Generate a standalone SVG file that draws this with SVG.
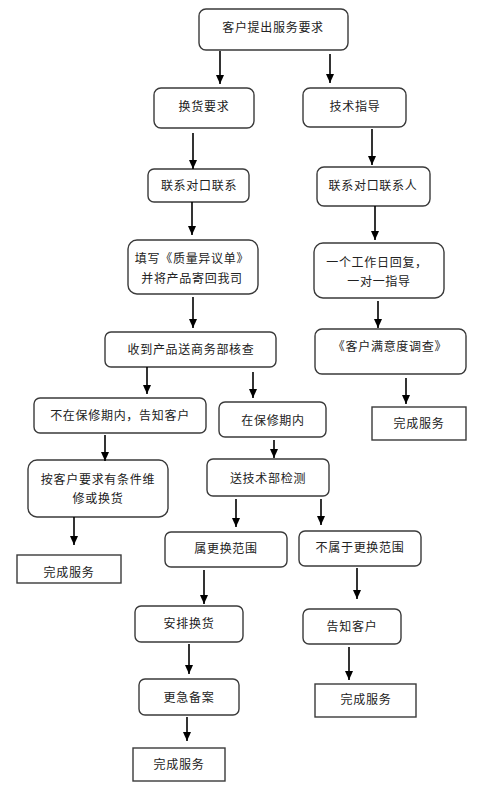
<svg xmlns="http://www.w3.org/2000/svg" width="490" height="800" viewBox="0 0 490 800">
<defs>
<style>
.n{fill:#fff;stroke:#3a3a3a;stroke-width:1.4}
.t{font-family:"Noto Sans CJK SC","Liberation Serif",sans-serif;font-size:12px;fill:#222;text-anchor:middle;dominant-baseline:central;letter-spacing:0.7px}
.c line{stroke:#000;stroke-width:1.6;marker-end:url(#ah)}
</style>
<marker id="ah" markerUnits="userSpaceOnUse" markerWidth="9" markerHeight="8" refX="9" refY="4" orient="auto"><path d="M0,0 L9,4 L0,8 Z" fill="#000"/></marker>
</defs>
<rect width="490" height="800" fill="#fff"/>
<g id="n1"><rect class="n" x="199" y="9" width="149" height="41" rx="7"/><text class="t" x="273" y="26">客户提出服务要求</text></g>
<g id="n2"><rect class="n" x="154" y="88" width="100" height="40" rx="7"/><text class="t" x="204" y="105">换货要求</text></g>
<g id="n3"><rect class="n" x="303" y="88" width="103" height="39" rx="7"/><text class="t" x="355" y="105">技术指导</text></g>
<g id="n4"><rect class="n" x="148" y="169" width="101" height="33" rx="6"/><text class="t" x="199" y="184">联系对口联系</text></g>
<g id="n5"><rect class="n" x="317" y="167" width="113" height="39" rx="7"/><text class="t" x="373" y="184">联系对口联系人</text></g>
<g id="n6"><rect class="n" x="128" y="240" width="130" height="54" rx="9"/><text class="t" x="192" y="257">填写《质量异议单》</text><text class="t" x="192" y="277">并将产品寄回我司</text></g>
<g id="n7"><rect class="n" x="314" y="243" width="130" height="55" rx="9"/><text class="t" x="377" y="261">一个工作日回复，</text><text class="t" x="379" y="280">一对一指导</text></g>
<g id="n8"><rect class="n" x="105" y="332" width="171" height="35" rx="6"/><text class="t" x="191" y="348">收到产品送商务部核查</text></g>
<g id="n9"><rect class="n" x="315" y="329" width="151" height="45" rx="7"/><text class="t" x="390" y="345">《客户满意度调查》</text></g>
<g id="n10"><rect class="n" x="34" y="398" width="172" height="35" rx="6"/><text class="t" x="120" y="414">不在保修期内，告知客户</text></g>
<g id="n11"><rect class="n" x="219" y="402" width="107" height="35" rx="6"/><text class="t" x="273" y="419">在保修期内</text></g>
<g id="n12"><rect class="n" x="372" y="407" width="94" height="33"/><text class="t" x="419" y="422">完成服务</text></g>
<g id="n13"><rect class="n" x="28" y="460" width="140" height="57" rx="9"/><text class="t" x="98" y="478">按客户要求有条件维</text><text class="t" x="98" y="497">修或换货</text></g>
<g id="n14"><rect class="n" x="207" y="459" width="122" height="37" rx="6"/><text class="t" x="268" y="477">送技术部检测</text></g>
<g id="n15"><rect class="n" x="17" y="555" width="104" height="28"/><text class="t" x="69" y="571">完成服务</text></g>
<g id="n16"><rect class="n" x="165" y="532" width="122" height="35" rx="6"/><text class="t" x="226" y="547">属更换范围</text></g>
<g id="n17"><rect class="n" x="299" y="531" width="122" height="35" rx="6"/><text class="t" x="360" y="546">不属于更换范围</text></g>
<g id="n18"><rect class="n" x="135" y="606" width="108" height="36" rx="6"/><text class="t" x="189" y="622">安排换货</text></g>
<g id="n19"><rect class="n" x="303" y="609" width="98" height="35" rx="6"/><text class="t" x="352" y="625">告知客户</text></g>
<g id="n20"><rect class="n" x="139" y="679" width="100" height="36" rx="6"/><text class="t" x="189" y="696">更急备案</text></g>
<g id="n21"><rect class="n" x="315" y="684" width="101" height="33"/><text class="t" x="366" y="698">完成服务</text></g>
<g id="n22"><rect class="n" x="133" y="748" width="92" height="33"/><text class="t" x="179" y="763">完成服务</text></g>
<g id="connectors" class="c">
<line x1="220" y1="51" x2="220" y2="84"/>
<line x1="330" y1="54" x2="330" y2="83"/>
<line x1="193" y1="133" x2="193" y2="169"/>
<line x1="372" y1="129" x2="372" y2="165"/>
<line x1="192" y1="202" x2="192" y2="235"/>
<line x1="375" y1="206" x2="375" y2="240"/>
<line x1="193" y1="297" x2="193" y2="328"/>
<line x1="378" y1="301" x2="378" y2="328"/>
<line x1="147" y1="367" x2="147" y2="394"/>
<line x1="253" y1="372" x2="253" y2="398"/>
<line x1="406" y1="378" x2="406" y2="404"/>
<line x1="105" y1="435" x2="105" y2="461"/>
<line x1="274" y1="440" x2="274" y2="458"/>
<line x1="74" y1="517" x2="74" y2="545"/>
<line x1="236" y1="499" x2="236" y2="527"/>
<line x1="321" y1="499" x2="321" y2="525"/>
<line x1="204" y1="570" x2="204" y2="604"/>
<line x1="357" y1="568" x2="357" y2="599"/>
<line x1="189" y1="644" x2="189" y2="674"/>
<line x1="349" y1="647" x2="349" y2="680"/>
<line x1="187" y1="717" x2="187" y2="741"/>
</g>
</svg>
